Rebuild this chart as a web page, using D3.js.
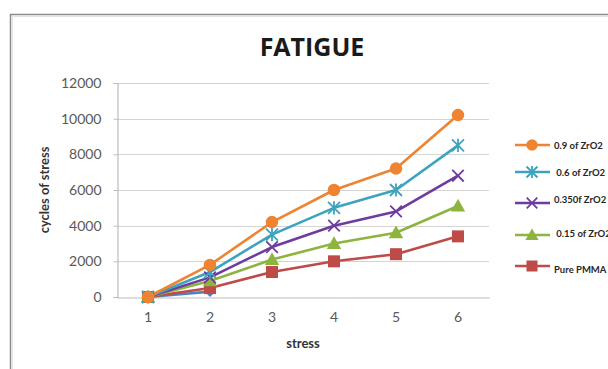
<!DOCTYPE html>
<html>
<head>
<meta charset="utf-8">
<script src="https://cdn.jsdelivr.net/npm/d3@7"></script>
<style>
  html, body { margin: 0; padding: 0; background: #fff; }
  svg { display: block; }
  text { font-family: Lato, "Open Sans", sans-serif; }
</style>
</head>
<body>
<svg id="chart" width="608" height="369"></svg>
<script>
// Fatigue test: cycles of stress per stress level
const stressLevels = ["1", "2", "3", "4", "5", "6"];
const yTicks = [0, 2000, 4000, 6000, 8000, 10000, 12000];

const zr090 = [0, 1800, 4200, 6000, 7200, 10200];
const zr060 = [0, 1400, 3500, 5000, 6000, 8500];
const zr035 = [0, 1100, 2800, 4000, 4800, 6800];
const zr015 = [0, 900, 2100, 3000, 3600, 5100];
const purePMMA = [0, 500, 1400, 2000, 2400, 3400];
const baseRun = [0, 300]; // short run without legend entry

const legendLabels = ["0.9 of ZrO2", " 0.6 of ZrO2", "0.350f ZrO2", " 0.15 of ZrO2", "Pure PMMA"];

const series = [
  { name: "base", values: baseRun, color: "#4F81BD", marker: "diamond" },
  { name: legendLabels[4], values: purePMMA, color: "#BE4B48", marker: "square" },
  { name: legendLabels[3], values: zr015, color: "#8DB43E", marker: "triangle" },
  { name: legendLabels[2], values: zr035, color: "#6E3C9E", marker: "x" },
  { name: legendLabels[1], values: zr060, color: "#3DA3BE", marker: "star" },
  { name: legendLabels[0], values: zr090, color: "#EE8431", marker: "circle" }
];

const svg = d3.select("#chart");

// outer chart frame
svg.append("path")
  .attr("d", "M10.5,369 V14.5 H608")
  .attr("fill", "none").attr("stroke", "#8a8a8a").attr("stroke-width", 1.5);
svg.append("path")
  .attr("d", "M12.5,369 V16.5 H608")
  .attr("fill", "none").attr("stroke", "#e4e4e4").attr("stroke-width", 1);

const plot = { left: 117, right: 489, top: 83, bottom: 297 };

const x = d3.scaleBand().domain(stressLevels).range([plot.left, plot.right]);
const y = d3.scaleLinear().domain([0, 12000]).range([plot.bottom, plot.top]);
const cx = i => x(stressLevels[i]) + x.bandwidth() / 2;

// gridlines
svg.append("g")
  .selectAll("line").data(yTicks.slice(1)).join("line")
  .attr("x1", plot.left).attr("x2", plot.right)
  .attr("y1", d => Math.round(y(d)) + 0.5).attr("y2", d => Math.round(y(d)) + 0.5)
  .attr("stroke", "#d4d4d4").attr("stroke-width", 1.2);

// y axis
const yAxis = svg.append("g")
  .attr("transform", `translate(${plot.left + 0.5},0)`)
  .call(d3.axisLeft(y).tickValues(yTicks).tickSize(4).tickPadding(12).tickFormat(d3.format("d")));
yAxis.select(".domain").attr("stroke", "#bcbcbc").attr("stroke-width", 1.2);
yAxis.selectAll(".tick line").attr("stroke", "#bcbcbc");
yAxis.selectAll(".tick text")
  .attr("fill", "#595959").style("font-size", "14px").style("font-family", "Lato, sans-serif");

// x axis
const xAxis = svg.append("g")
  .attr("transform", `translate(0,${Math.round(y(0)) + 0.5})`)
  .call(d3.axisBottom(x).tickSize(0).tickPadding(15));
xAxis.select(".domain").attr("stroke", "#bcbcbc").attr("stroke-width", 1.2);
xAxis.selectAll(".tick text")
  .attr("fill", "#595959").style("font-size", "14px").style("font-family", "Lato, sans-serif");

// titles
svg.append("text")
  .attr("x", 312).attr("y", 56)
  .attr("text-anchor", "middle")
  .style("font-family", "'Open Sans', sans-serif")
  .style("font-weight", "bold").style("font-size", "25px").attr("fill", "#1a1a1a")
  .text("FATIGUE");

svg.append("text")
  .attr("x", 303).attr("y", 348)
  .attr("text-anchor", "middle")
  .style("font-weight", "bold").style("font-size", "13px").attr("fill", "#333")
  .text("stress");

svg.append("text")
  .attr("transform", `translate(49,${(plot.top + plot.bottom) / 2}) rotate(-90)`)
  .attr("text-anchor", "middle")
  .style("font-weight", "bold").style("font-size", "13px").attr("fill", "#333")
  .text("cycles of stress");

// marker drawing
function drawMarker(g, type, color, size) {
  const s = size;
  if (type === "circle") {
    g.append("circle").attr("r", s * 0.52).attr("fill", color);
  } else if (type === "square") {
    g.append("rect").attr("x", -s / 2).attr("y", -s / 2).attr("width", s).attr("height", s).attr("fill", color);
  } else if (type === "triangle") {
    g.append("path").attr("d", `M0,${-s * 0.6} L${s * 0.6},${s * 0.45} L${-s * 0.6},${s * 0.45} Z`).attr("fill", color);
  } else if (type === "diamond") {
    const h = s * 0.45;
    g.append("path").attr("d", `M0,${-h} L${h},0 L0,${h} L${-h},0 Z`).attr("fill", color);
  } else if (type === "x") {
    const h = s * 0.48;
    g.append("path").attr("d", `M${-h},${-h} L${h},${h} M${-h},${h} L${h},${-h}`)
      .attr("stroke", color).attr("stroke-width", 1.8).attr("fill", "none");
  } else if (type === "star") {
    const h = s * 0.5;
    g.append("path").attr("d", `M${-h},${-h} L${h},${h} M${-h},${h} L${h},${-h} M0,${-h * 1.1} L0,${h * 1.1}`)
      .attr("stroke", color).attr("stroke-width", 1.8).attr("fill", "none");
  }
}

const line = d3.line().x((d, i) => cx(i)).y(d => y(d));

const lines = svg.append("g");
series.forEach(s => {
  lines.append("path")
    .datum(s.values)
    .attr("d", line)
    .attr("fill", "none")
    .attr("stroke", s.color)
    .attr("stroke-width", 2.6)
    .attr("stroke-linejoin", "round");
});
series.forEach(s => {
  s.values.forEach((v, i) => {
    const g = lines.append("g").attr("transform", `translate(${cx(i)},${y(v)})`);
    drawMarker(g, s.marker, s.color, 12);
  });
});

// legend
const legendRows = [145, 172, 203, 235, 266];
const legendTextShift = [3.5, 3.5, 0, 2, 7];
const legendSeries = series.slice(1).reverse();
const legend = svg.append("g");
legendSeries.forEach((s, i) => {
  const ly = legendRows[i];
  legend.append("line")
    .attr("x1", 515).attr("x2", 550).attr("y1", ly).attr("y2", ly)
    .attr("stroke", s.color).attr("stroke-width", 2.6);
  const g = legend.append("g").attr("transform", `translate(532,${ly})`);
  drawMarker(g, s.marker, s.color, 11);
  legend.append("text")
    .attr("x", 554).attr("y", ly + legendTextShift[i])
    .style("font-weight", "bold").style("font-size", "9.5px").attr("fill", "#262626")
    .style("white-space", "pre")
    .text(s.name);
});
</script>
</body>
</html>
